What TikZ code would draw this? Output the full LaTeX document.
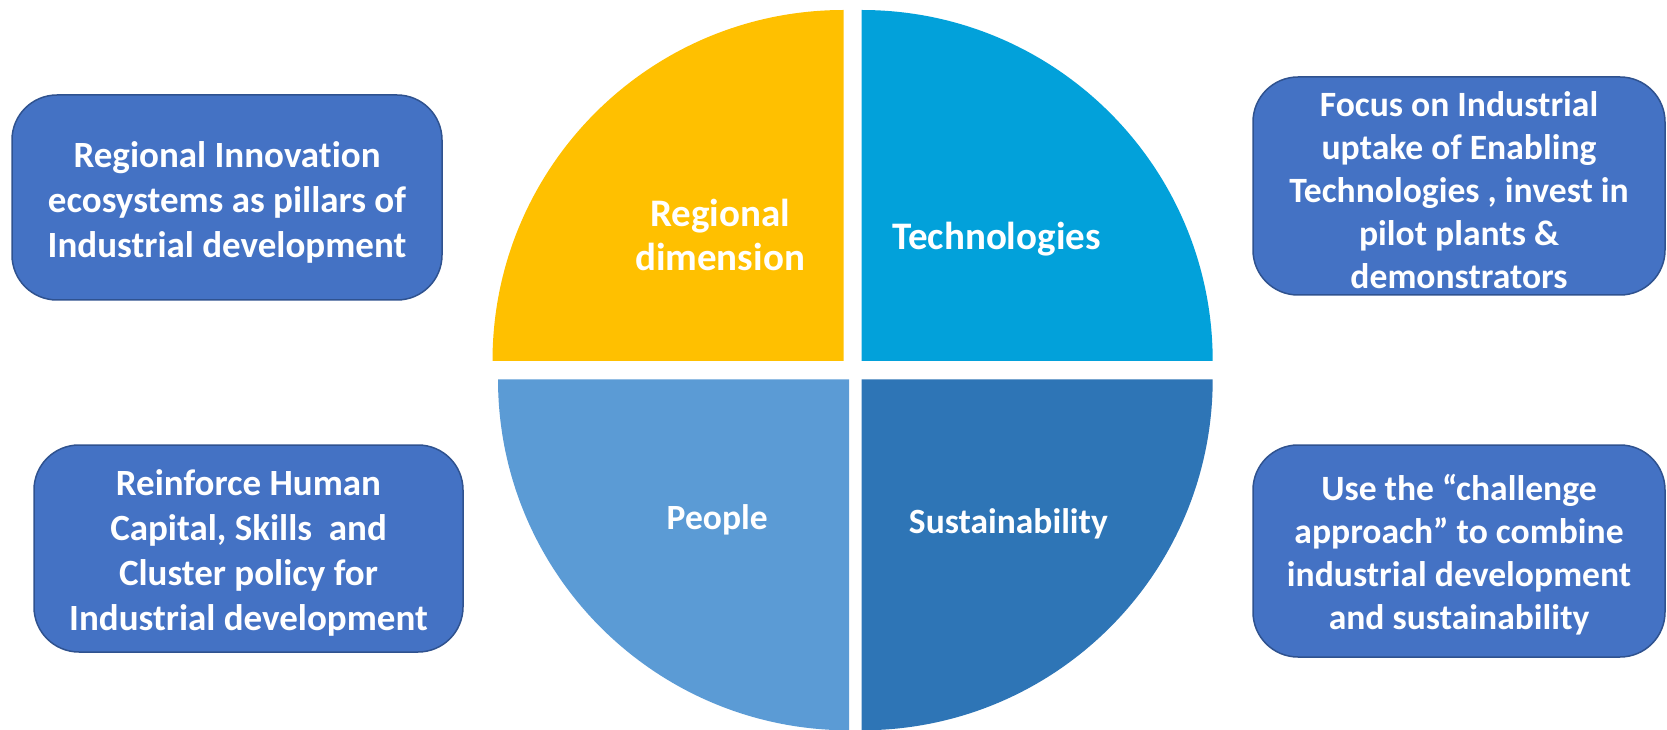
\documentclass[tikz,border=0pt]{standalone}
\usepackage{fontspec}
\setmainfont{Carlito}[Ligatures={NoCommon,TeX}]
\definecolor{qyellow}{HTML}{FFC000}
\definecolor{qtech}{HTML}{02A1DA}
\definecolor{qpeople}{HTML}{5B9BD5}
\definecolor{qsust}{HTML}{2E75B6}
\definecolor{boxfill}{HTML}{4472C4}
\definecolor{boxline}{HTML}{2F528F}
\tikzset{
  infobox/.style={draw=boxline, line width=1.5pt, fill=boxfill, rounded corners=45pt,
    text=white, align=center, inner sep=0pt,
    font=\fontsize{37}{45}\selectfont\bfseries},
  smallbox/.style={infobox, font=\fontsize{35.6}{43}\selectfont\bfseries},
  qlabel/.style={text=white, align=center, inner sep=0pt,
    font=\fontsize{35.5}{42}\selectfont\bfseries},
  biglabel/.style={qlabel, font=\fontsize{39}{44}\selectfont\bfseries},
}
\begin{document}
\begin{tikzpicture}[x=1pt,y=1pt]
\useasboundingbox (0,0) rectangle (1667,729);
\clip (0,0) rectangle (1667,729);
% quadrants
\fill[qyellow] (843.5,368) -- ++(-351,0) arc[start angle=180, end angle=90, radius=351pt] -- cycle;
\fill[qtech] (861.7,368) -- ++(0,351) arc[start angle=90, end angle=0, radius=351pt] -- cycle;
\fill[qpeople] (849,349.7) -- ++(-351,0) arc[start angle=180, end angle=270, radius=351pt] -- cycle;
\fill[qsust] (861.7,349.7) -- ++(0,-351) arc[start angle=270, end angle=360, radius=351pt] -- cycle;
% quadrant labels
\node[biglabel] (reg) at (720,493.7) {Regional\\dimension};
\node[biglabel] (tech) at (996.5,490) {Technologies};
\node[qlabel] (peo) at (717.2,209.4) {People};
\node[qlabel] (sus) at (1008.3,205.2) {Sustainability};
% boxes
\node[infobox, minimum width=430pt, minimum height=205pt] (b1) at (227,531.5) {};
\node[infobox, draw=none, fill=none] (t1) at (227,527)
  {Regional Innovation\\ecosystems as pillars of\\Industrial development};
\node[smallbox, minimum width=412pt, minimum height=218pt] (b2) at (1459,543) {};
\node[smallbox, draw=none, fill=none] (t2) at (1459,539)
  {Focus on Industrial\\uptake of Enabling\\Technologies , invest in\\pilot plants \&\\demonstrators};
\node[infobox, minimum width=429pt, minimum height=207pt] (b3) at (248.5,180.5) {};
\node[infobox, draw=none, fill=none] (t3) at (248.5,176)
  {Reinforce Human\\Capital, Skills\ \ and\\Cluster policy for\\Industrial development};
\node[smallbox, minimum width=412pt, minimum height=212pt] (b4) at (1459,178) {};
\node[smallbox, draw=none, fill=none] (t4) at (1459,174)
  {Use the “challenge\\approach” to combine\\industrial development\\and sustainability};
\end{tikzpicture}
\end{document}
